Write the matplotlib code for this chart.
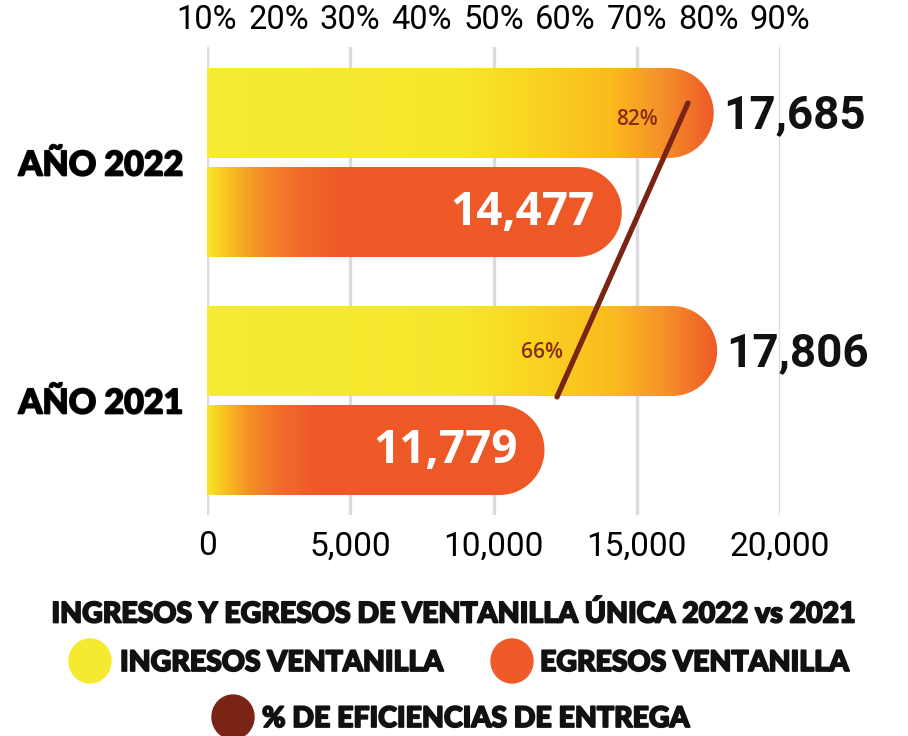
import numpy as np
import matplotlib
matplotlib.use('Agg')
import matplotlib.pyplot as plt
from matplotlib.colors import LinearSegmentedColormap
from matplotlib.path import Path
from matplotlib.patches import PathPatch, Ellipse
import matplotlib.patheffects as pe

# ---------------- data ----------------
years = ['AÑO 2022', 'AÑO 2021']
ingresos = [17685, 17806]
egresos = [14477, 11779]
eficiencia = [82, 66]
eficiencia_labels = ['82%', '66%']
x_ticks = [0, 5000, 10000, 15000, 20000]
x_tick_labels = ['0', '5,000', '10,000', '15,000', '20,000']
pct_ticks = [10, 20, 30, 40, 50, 60, 70, 80, 90]
pct_tick_labels = ['10%', '20%', '30%', '40%', '50%', '60%', '70%', '80%', '90%']
title = 'INGRESOS Y EGRESOS DE VENTANILLA ÚNICA 2022 vs 2021'
legend_labels = ['INGRESOS VENTANILLA', 'EGRESOS VENTANILLA', '% DE EFICIENCIAS DE ENTREGA']

# ---------------- style ----------------
W, H = 908, 736
YELLOW = '#F5EA2F'
ORANGE = '#EF5A28'
DARKRED = '#7A2416'
GRID = '#D9DCDD'
HEAVY = [pe.withStroke(linewidth=1.3, foreground='#111111')]

cmap_ing = LinearSegmentedColormap.from_list('ing', [
    (0.0, '#F4EC33'), (0.5, '#F6E72C'), (0.65, '#F9D321'),
    (0.8, '#FBBA1D'), (0.9, '#F5902A'), (1.0, '#EE5A27')])
cmap_egr = LinearSegmentedColormap.from_list('egr', [
    (0.0, '#F6E52A'), (0.05, '#F9C21F'), (0.12, '#F59127'),
    (0.22, '#F16A2A'), (0.32, '#EF5A28'), (1.0, '#EE5827')])

ax_l, ax_r, ax_t, ax_b = 207, 780, 47, 515        # axes box in pixels
group_px = 238.0                                    # pixels between groups
center0_px = 162.5                                  # pixel y of first group centre
bar_h = 90 / group_px
bar_off = 49.5 / group_px
x_max = 20000
px_x = (ax_r - ax_l) / x_max
px_y = group_px

fig = plt.figure(figsize=(W / 100, H / 100), dpi=100)
ax = fig.add_axes([ax_l / W, 1 - ax_b / H, (ax_r - ax_l) / W, (ax_b - ax_t) / H])
y_top = (ax_t - center0_px) / group_px
y_bot = (ax_b - center0_px) / group_px


def rounded_bar(y, length, height, cmap):
    ry = height / 2
    rx = ry * px_y / px_x
    rx = min(rx, length)
    t = np.linspace(-np.pi / 2, np.pi / 2, 80)
    xs = np.concatenate([[0], (length - rx) + rx * np.cos(t), [0], [0]])
    ys = np.concatenate([[y - ry], y + ry * np.sin(t), [y + ry], [y - ry]])
    codes = [Path.MOVETO] + [Path.LINETO] * (len(xs) - 2) + [Path.CLOSEPOLY]
    patch = PathPatch(Path(np.column_stack([xs, ys]), codes),
                      facecolor='none', edgecolor='none')
    ax.add_patch(patch)
    grad = np.linspace(0, 1, 512).reshape(1, -1)
    im = ax.imshow(grad, cmap=cmap, extent=[0, length, y + ry, y - ry],
                   aspect='auto', interpolation='bilinear', zorder=2)
    im.set_clip_path(patch)


centers = np.arange(len(years))
for i, c in enumerate(centers):
    yi = c - bar_off
    ye = c + bar_off
    rounded_bar(yi, ingresos[i], bar_h, cmap_ing)
    rounded_bar(ye, egresos[i], bar_h, cmap_egr)
    ax.annotate(f'{ingresos[i]:,}', (ingresos[i], yi), xytext=(6.5, -1.5),
                textcoords='offset points', ha='left', va='center',
                fontsize=33, fontweight='bold', family='Roboto', color='#111111',
                zorder=6, annotation_clip=False)
    ax.annotate(f'{egresos[i]:,}', (egresos[i], ye), xytext=(-19.5, -0.5),
                textcoords='offset points', ha='right', va='center',
                fontsize=33, fontweight='bold', family='Open Sans', color='white',
                zorder=6, annotation_clip=False)

ax.set_xlim(0, x_max)
ax.set_ylim(y_bot, y_top)
ax.set_xticks(x_ticks, labels=x_tick_labels)
ax.grid(axis='x', color=GRID, lw=2.4)
ax.grid(axis='y', visible=False)
ax.set_axisbelow(True)
for s in ax.spines.values():
    s.set_visible(False)
ax.tick_params(axis='x', length=0, pad=11, labelsize=24)
for lab in ax.get_xticklabels():
    lab.set_family('Roboto')
ax.set_yticks(centers, labels=years)
ax.tick_params(axis='y', length=0, pad=17)
for lab in ax.get_yticklabels():
    lab.set_family('Lato')
    lab.set_fontweight('black')
    lab.set_fontsize(24.5)
    lab.set_path_effects(HEAVY)

# top percentage scale
sec = ax.secondary_xaxis('top', functions=(lambda v: 10 + np.asarray(v) * 80 / x_max,
                                           lambda p: (np.asarray(p) - 10) * x_max / 80))
sec.set_xticks(pct_ticks, labels=pct_tick_labels)
sec.tick_params(length=0, pad=8, labelsize=23.5)
for lab in sec.get_xticklabels():
    lab.set_family('Roboto')
for s in sec.spines.values():
    s.set_visible(False)

# efficiency line on its own percentage axis
ax2 = ax.twiny()
ax2.set_xlim(23.25, 93.24)
ax2.set_axis_off()
line_offsets = [-0.25, -0.015]
line_y = [c + o for c, o in zip(centers, line_offsets)]
ax2.plot(eficiencia, line_y, color=DARKRED, lw=3.8, solid_capstyle='round', zorder=5)
label_offsets = [(-22, -12), (4, 32)]
for p, yv, lbl, off in zip(eficiencia, line_y, eficiencia_labels, label_offsets):
    ax2.annotate(lbl, (p, yv), xytext=off, textcoords='offset points',
                 ha='right', va='center', fontsize=15, fontweight='semibold',
                 family='Open Sans', color='#8A2B14', zorder=6)

# title & legend
fig.text(0.5, 1 - 614 / H, title, ha='center', va='center', fontsize=20.5,
         family='Lato', fontweight='black', color='#111111', path_effects=HEAVY)
leg_items = [((90, 661), YELLOW, 120, legend_labels[0]),
             ((512, 661), ORANGE, 540, legend_labels[1]),
             ((233, 717), DARKRED, 262, legend_labels[2])]
for (cx, cy), col, tx, lbl in leg_items:
    fig.add_artist(Ellipse((cx / W, 1 - cy / H), 42 / W, 44 / H,
                           transform=fig.transFigure, color=col))
    fig.text(tx / W, 1 - (cy + 2) / H, lbl, ha='left', va='center', fontsize=20.5,
             family='Lato', fontweight='black', color='#111111', path_effects=HEAVY)

fig.savefig('out.png', dpi=100, facecolor='white')
